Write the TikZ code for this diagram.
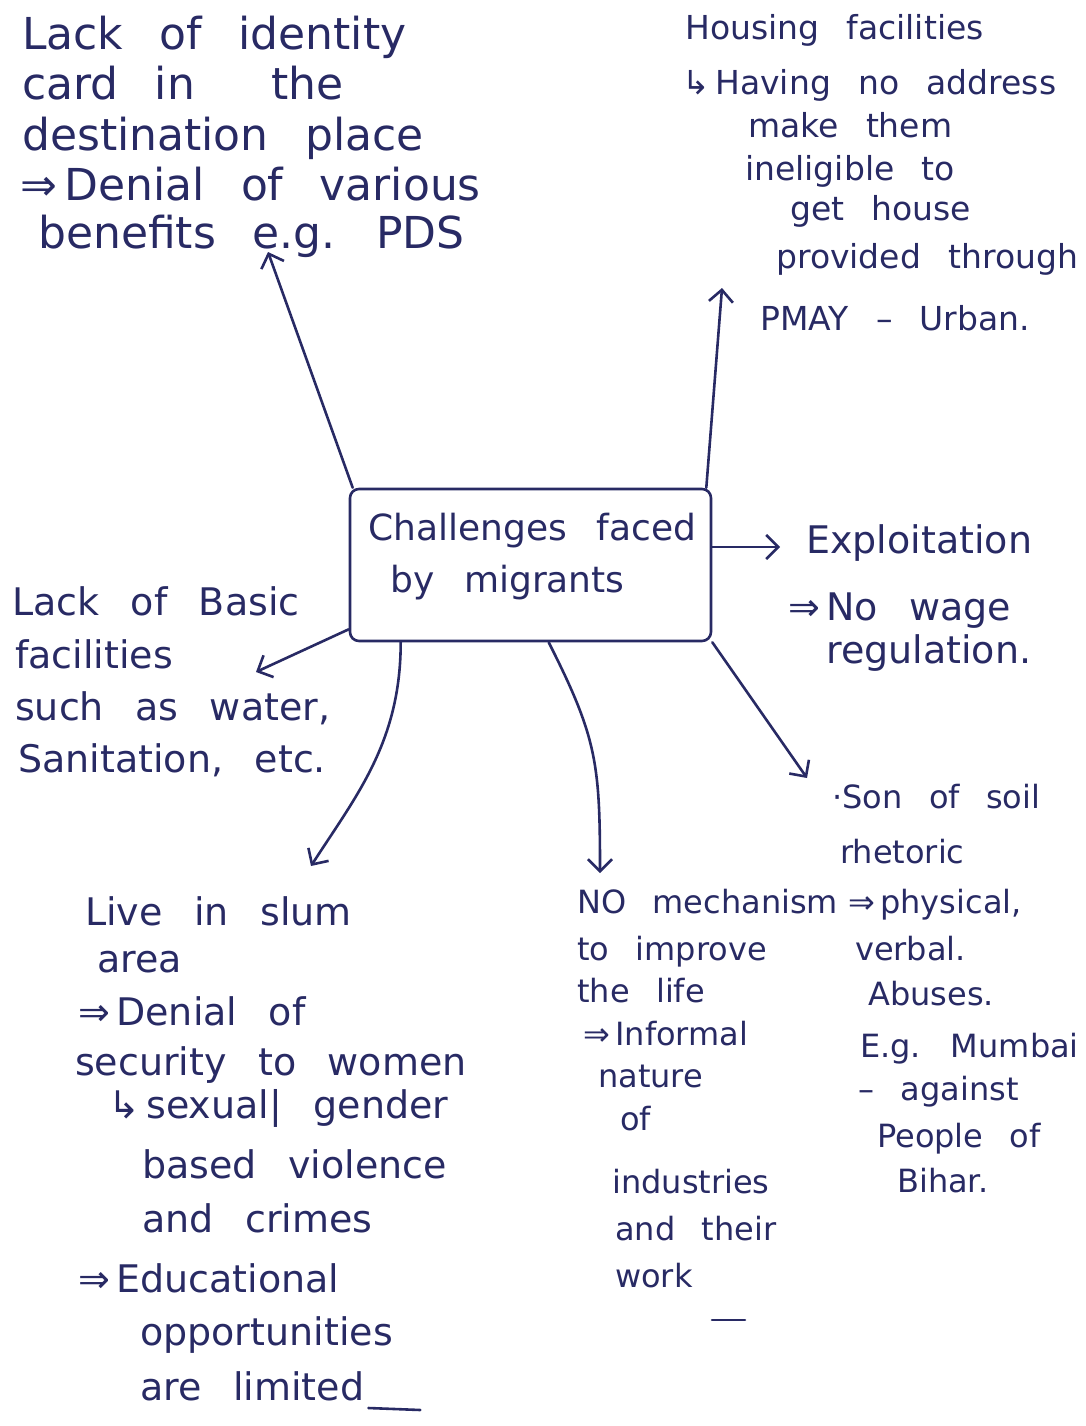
\documentclass[tikz,border=0pt]{standalone}
\usepackage{fontspec}
\setmainfont{DejaVu Sans}[WordSpace=2.6]
\usetikzlibrary{arrows.meta}
\definecolor{ink}{RGB}{40,42,100}
\newcommand\hsz[1]{\fontsize{#1}{#1}\selectfont}

\begin{document}
\begin{tikzpicture}[x=1pt,y=-1pt,
  pen/.style={draw=ink, line width=2.6pt, line cap=round, line join=round},
  conn/.style={pen, -{Straight Barb[length=12pt,width=24pt]}},
  txt/.style={text=ink, inner sep=0pt, anchor=base west},
  big/.style={txt, font=\hsz{44}},
  mid/.style={txt, font=\hsz{38}},
  small/.style={txt, font=\hsz{33}},
  tiny/.style={txt, font=\hsz{32}},
  centre/.style={txt, font=\hsz{36}},
  hub/.style={pen, rounded corners=9pt, minimum width=361pt, minimum height=152pt, inner sep=0pt}
]
\useasboundingbox (0,0) rectangle (1086,1426);

% central box
\node[hub] (box) at (530.5,565) {};
\node[centre] (c1) at (368,540) {Challenges faced};
\node[centre] (c2) at (390,592) {by migrants};

% identity card
\node[big] (tl1) at (22,50)  {Lack of identity};
\node[big] (tl2) at (22,100) {card in \hspace{40pt}the};
\node[big] (tl3) at (22,150) {destination place};
\node[big] (tl4) at (20,200) {⇒\,Denial of various};
\node[big] (tl5) at (38,248) {benefits e.g. PDS};

% housing
\node[small] (tr1) at (685,40)  {Housing facilities};
\node[small] (tr2) at (682,95)  {↳\,Having no address};
\node[small] (tr3) at (748,137) {make them};
\node[small] (tr4) at (745,180) {ineligible to};
\node[small] (tr5) at (790,220) {get house};
\node[small] (tr6) at (776,268) {provided through};
\node[small] (tr7) at (760,330) {PMAY – Urban.};

% exploitation
\node[mid] (ex1) at (806,553) {Exploitation};
\node[mid] (ex2) at (788,620) {⇒\,No wage};
\node[mid] (ex3) at (826,663) {regulation.};

% basic facilities
\node[mid] (lb1) at (12,615) {Lack of Basic};
\node[mid] (lb2) at (15,668) {facilities};
\node[mid] (lb3) at (15,720) {such as water,};
\node[mid] (lb4) at (18,772) {Sanitation, etc.};

% slum
\node[mid] (bl1)  at (85,925)   {Live in slum};
\node[mid] (bl2)  at (97,972)   {area};
\node[mid] (bl3)  at (78,1025)  {⇒\,Denial of};
\node[mid] (bl4)  at (75,1075)  {security to women};
\node[mid] (bl5)  at (108,1118) {↳\,sexual| gender};
\node[mid] (bl6)  at (142,1178) {based violence};
\node[mid] (bl7)  at (142,1232) {and crimes};
\node[mid] (bl8)  at (78,1292)  {⇒\,Educational};
\node[mid] (bl9)  at (140,1345) {opportunities};
\node[mid] (bl10) at (140,1400) {are limited};
\draw[pen] ([xshift=4pt,yshift=-8pt]bl10.base east) -- ++(52,2);

% mechanism
\node[tiny] (bm1) at (577,913)  {NO mechanism};
\node[tiny] (bm2) at (577,960)  {to improve};
\node[tiny] (bm3) at (577,1002) {the life};
\node[tiny] (bm4) at (583,1045) {⇒\,Informal};
\node[tiny] (bm5) at (598,1087) {nature};
\node[tiny] (bm6) at (620,1130) {of};
\node[tiny] (bm7) at (612,1193) {industries};
\node[tiny] (bm8) at (615,1240) {and their};
\node[tiny] (bm9) at (615,1287) {work};
\draw[pen] (712,1320) -- (745,1320);

% son of soil
\node[tiny] (br1) at (832,808)  {·Son of soil};
\node[tiny] (br2) at (840,863)  {rhetoric};
\node[tiny] (br3) at (848,913)  {⇒\,physical,};
\node[tiny] (br4) at (855,960)  {verbal.};
\node[tiny] (br5) at (868,1005) {Abuses.};
\node[tiny] (br6) at (860,1057) {E.g. Mumbai};
\node[tiny] (br7) at (858,1100) {– against};
\node[tiny] (br8) at (877,1147) {People of};
\node[tiny] (br9) at (897,1192) {Bihar.};

% arrow ends
\coordinate (a1tip) at (268,252);
\coordinate (a2tip) at (722,288);
\coordinate (a3tip) at (780,547);
\coordinate (a4tip) at (256,672);
\coordinate (a5tip) at (311,866);
\coordinate (a6tip) at (600,873);
\coordinate (a7tip) at (807,778);

% connectors
\draw[conn] ([xshift=4pt]box.north west) -- (a1tip);
\draw[conn] ([xshift=-6pt]box.north east) -- (a2tip);
\draw[conn] (box.east |- a3tip) -- (a3tip);
\draw[conn] ([yshift=13pt]box.south west) -- (a4tip);
\draw[conn] ([xshift=52pt]box.south west) .. controls +(0,100) and +(45,-70) .. (a5tip);
\draw[conn] ([xshift=200pt]box.south west) .. controls +(48,95) and +(0,-110) .. (a6tip);
\draw[conn] (box.south east) -- (a7tip);
\end{tikzpicture}
\end{document}
